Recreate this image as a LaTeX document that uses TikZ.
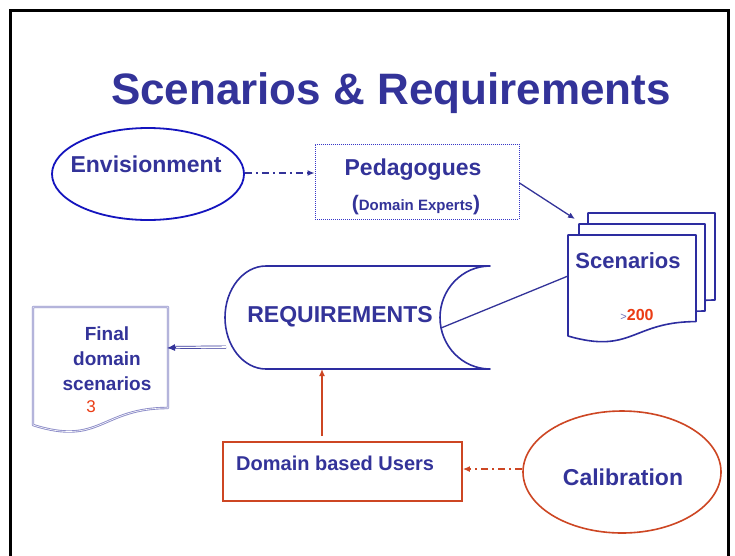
\documentclass[tikz,border=0pt]{standalone}
\usepackage{fontspec}
\setmainfont{Liberation Sans}
\usetikzlibrary{shapes.geometric,arrows.meta}
\definecolor{navy}{RGB}{51,51,153}
\definecolor{shapeblue}{RGB}{45,45,160}
\definecolor{ellblue}{RGB}{20,20,190}
\definecolor{redline}{RGB}{205,70,35}
\definecolor{rednum}{RGB}{235,60,20}
\definecolor{lavender}{RGB}{140,140,200}
\tikzset{
  lbl/.style={text=navy, font=\bfseries, inner sep=0pt, anchor=base},
  docshape/.style={draw=shapeblue, line width=1.6pt, fill=white, line join=round},
  tipb/.style={-{Latex[length=7pt,width=6pt]}},
  dashdot/.style={dash pattern=on 7pt off 4pt on 2pt off 4pt}
}
\begin{document}
\begin{tikzpicture}[x=1pt,y=-1pt]
\useasboundingbox (0,0) rectangle (735,555);
\fill[white] (0,0) rectangle (735,555);
% frame
\draw[line width=3pt] (10,570) -- (10,10) -- (728,10) -- (728,570);

% title
\node[lbl, font=\bfseries\fontsize{44}{50}\selectfont] (title) at (391,104) {Scenarios \& Requirements};

% Envisionment
\node[ellipse, draw=ellblue, line width=1.8pt, minimum width=192pt, minimum height=92pt, inner sep=0pt] (env) at (148,174) {};
\node[lbl, font=\bfseries\fontsize{23}{26}\selectfont] (envt) at (146,172) {Envisionment};

% Pedagogues
\node[draw=ellblue!85, line width=1pt, dash pattern=on 1pt off 1pt, minimum width=204pt, minimum height=75pt, inner sep=0pt] (ped) at (417,181.5) {};
\node[lbl, font=\bfseries\fontsize{23}{26}\selectfont] (pedt) at (413,175) {Pedagogues};
\node[lbl, font=\bfseries\fontsize{15}{18}\selectfont] (pedx) at (416,210) {{\fontsize{21}{24}\selectfont(}Domain Experts{\fontsize{21}{24}\selectfont)}};

% Scenarios stack
\draw[docshape] (588,213) -- (715,213) -- (715,300) .. controls (651,300) and (651,333) .. (588,313) -- cycle;
\draw[docshape] (579,224) -- (705,224) -- (705,311) .. controls (642,311) and (642,344) .. (579,324) -- cycle;
\draw[docshape] (568,235) -- (696,235) -- (696,321.6) .. controls (632,321.6) and (632,354.6) .. (568,336) -- cycle;
\coordinate (scenL) at (568,276);
\coordinate (scenTL) at (575,219);
\node[lbl, font=\bfseries\fontsize{22}{26}\selectfont] (scent) at (628,268) {Scenarios};
\node[lbl] (num) at (637,320) {{\color{navy!70}\fontsize{11}{12}\selectfont\mdseries >}{\color{rednum}\fontsize{16}{18}\selectfont 200}};

% REQUIREMENTS
\draw[draw=shapeblue, line width=1.6pt, fill=white, line join=round]
  (266,266) -- (490,266)
  .. controls (462.4,266) and (440,289.1) .. (440,317.5)
  .. controls (440,345.9) and (462.4,369) .. (490,369)
  -- (266,369)
  .. controls (243.4,369) and (225,345.9) .. (225,317.5)
  .. controls (225,289.1) and (243.4,266) .. (266,266) -- cycle;
\coordinate (reqR) at (441,328);
\coordinate (reqL) at (226,347);
\coordinate (reqB) at (322,369);
\node[lbl, font=\bfseries\fontsize{23}{26}\selectfont] (reqt) at (340,322) {REQUIREMENTS};

% Final domain scenarios
\draw[draw=lavender, line width=2.4pt, fill=white, line join=round] (33,307) -- (168,307) -- (168,408) .. controls (100.5,408) and (100.5,446.5) .. (33,425) -- cycle;
\draw[draw=white, line width=0.6pt] (33,307) -- (168,307) -- (168,408) .. controls (100.5,408) and (100.5,446.5) .. (33,425) -- cycle;
\coordinate (fdsR) at (167,348);
\node[lbl, font=\bfseries\fontsize{19}{22}\selectfont] (fds1) at (107,340) {Final};
\node[lbl, font=\bfseries\fontsize{19}{22}\selectfont] (fds2) at (107,365) {domain};
\node[lbl, font=\bfseries\fontsize{19}{22}\selectfont] (fds3) at (107,390) {scenarios};
\node[lbl, text=rednum, font=\fontsize{17}{20}\selectfont] (fds4) at (91,412) {3};

% Domain based Users
\node[draw=redline, line width=1.8pt, minimum width=239pt, minimum height=59pt, inner sep=0pt] (dbu) at (342.5,471.5) {};
\node[lbl, anchor=base west, font=\bfseries\fontsize{20}{24}\selectfont] (dbut) at (236,470) {Domain based Users};

% Calibration
\node[ellipse, draw=redline, line width=1.6pt, minimum width=198pt, minimum height=122pt, inner sep=0pt] (cal) at (622,472) {};
\node[lbl, font=\bfseries\fontsize{23}{26}\selectfont] (calt) at (623,485) {Calibration};

% connectors
\draw[navy, line width=1.3pt, dashdot, tipb] (env.east |- 0,173) -- (ped.west |- 0,173);
\draw[navy, line width=1.3pt, tipb] (ped.east |- 0,183) -- (scenTL);
\draw[navy, line width=1.3pt] (scenL) -- (reqR);
\draw[navy, line width=0.7pt, double distance=1.6pt] (reqL) -- (174,347.5);
\draw[navy, line width=1pt, -{Latex[length=8pt,width=7pt]}] (176,347.5) -- (fdsR);
\draw[redline, line width=1.3pt, tipb] (reqB |- 0,436) -- (reqB);
\draw[redline, line width=1.3pt, dashdot, tipb] (cal.west |- 0,469) -- (dbu.east |- 0,469);
\end{tikzpicture}
\end{document}
